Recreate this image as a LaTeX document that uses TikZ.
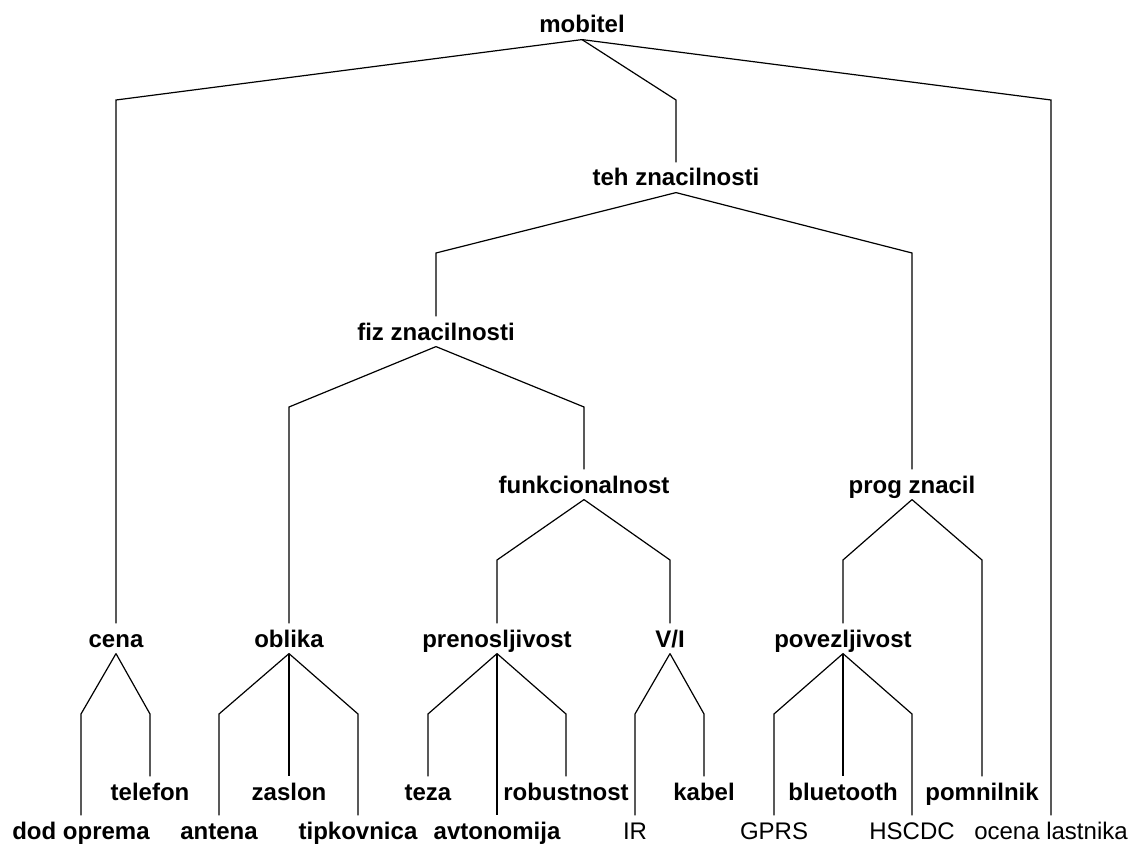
\documentclass[tikz,border=0pt]{standalone}
\usepackage{fontspec}
\setmainfont{Liberation Sans}
\usepackage{tikz}

\tikzset{
  lbl/.style={font=\bfseries\fontsize{24}{28}\selectfont, anchor=base,
              inner xsep=0pt, inner ysep=6pt, text height=17pt, text depth=0pt},
  thinlbl/.style={lbl, font=\fontsize{24}{28}\selectfont}
}

\begin{document}
\begin{tikzpicture}[x=1pt, y=-1pt, line width=1.2pt]
      \useasboundingbox (0, 0) rectangle (1135, 845);
      \node[lbl] (mobitel) at (582, 33) {mobitel};
      \node[lbl] (teh) at (676, 186) {teh znacilnosti};
      \node[lbl] (fiz) at (436, 340) {fiz znacilnosti};
      \node[lbl] (funk) at (584, 493) {funkcionalnost};
      \node[lbl] (prog) at (912, 493) {prog znacil};
      \node[lbl] (cena) at (116, 647) {cena};
      \node[lbl] (oblika) at (289, 647) {oblika};
      \node[lbl] (prenos) at (497, 647) {prenosljivost};
      \node[lbl] (vi) at (670, 647) {V/I};
      \node[lbl] (povez) at (843, 647) {povezljivost};
      % listi
      \node[lbl] (telefon) at (150, 800) {telefon};
      \node[lbl] (zaslon) at (289, 800) {zaslon};
      \node[lbl] (teza) at (428, 800) {teza};
      \node[lbl] (robust) at (566, 800) {robustnost};
      \node[lbl] (kabel) at (704, 800) {kabel};
      \node[lbl] (blue) at (843, 800) {bluetooth};
      \node[lbl] (pomn) at (982, 800) {pomnilnik};
      \node[lbl] (dod) at (81, 839) {dod oprema};
      \node[lbl] (antena) at (219, 839) {antena};
      \node[lbl] (tipk) at (358, 839) {tipkovnica};
      \node[lbl] (avton) at (497, 839) {avtonomija};
      \node[thinlbl] (ir) at (635, 839) {IR};
      \node[thinlbl] (gprs) at (774, 839) {GPRS};
      \node[thinlbl] (hscdc) at (912, 839) {HSCDC};
      \node[thinlbl] (ocena) at (1051, 839) {ocena lastnika};
      % povezave
      \foreach \p/\c/\b in {mobitel/cena/100, mobitel/teh/100, mobitel/ocena/100,
                            teh/fiz/253, teh/prog/253, fiz/oblika/407, fiz/funk/407,
                            funk/prenos/560, funk/vi/560, prog/povez/560, prog/pomn/560,
                            cena/dod/714, cena/telefon/714, oblika/antena/714, oblika/tipk/714,
                            prenos/teza/714, prenos/robust/714, vi/ir/714, vi/kabel/714,
                            povez/gprs/714, povez/hscdc/714}
        \draw (\p.south) -- (\c.north |- 0, \b) -- (\c.north);
      \draw (oblika.south) -- (zaslon.north)
            (prenos.south) -- (avton.north)
            (povez.south) -- (blue.north);
\end{tikzpicture}
\end{document}
